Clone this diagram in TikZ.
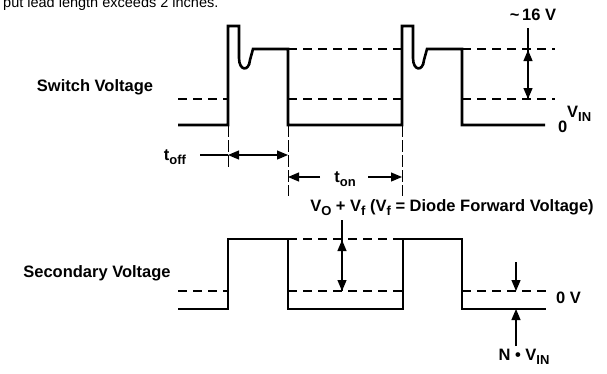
\documentclass[tikz,border=0pt]{standalone}
\usepackage{fontspec}
\setmainfont{Liberation Sans}
\usetikzlibrary{arrows.meta}
\newcommand\lsub[1]{\raisebox{-0.45ex}{\fontsize{13}{13}\selectfont #1}}
\begin{document}
\begin{tikzpicture}[x=1pt,y=-1pt,
 wave/.style={line width=2.6pt, line join=miter},
 guide/.style={line width=1.2pt, dash pattern=on 9pt off 6pt},
 tick/.style={line width=1pt, dash pattern=on 12pt off 3pt},
 dim/.style={line width=1.2pt},
 tip/.style={-{Triangle[width=9pt,length=11pt]}, line width=1.2pt},
 lbl/.style={font=\fontsize{16.5}{18}\selectfont\bfseries, inner sep=0pt},
]
\useasboundingbox (0,0) rectangle (607,373);
\clip (0,0) rectangle (607,373);
% clipped note at top
\node[anchor=base west, font=\fontsize{14.5}{16}\selectfont, inner sep=0pt] (note) at (3,7) {put lead length exceeds 2 inches.};

% ---------- switch voltage ----------
\coordinate (s0) at (178,125);
\coordinate (r1) at (228,125);
\coordinate (f1) at (288,125);
\coordinate (r2) at (402,125);
\coordinate (f2) at (462,125);
\coordinate (s9) at (545,125);
\draw[wave] (s0) -- (r1) -- (228,26) -- (239,26) -- (239,58) .. controls (239,71) and (249,72) .. (250,60) -- (253,49) -- (288,49) -- (f1) -- (r2) -- (402,26) -- (413,26) -- (413,58) .. controls (413,71) and (423,72) .. (424,60) -- (427,49) -- (462,49) -- (f2) -- (s9);
\draw[guide] (178,99) -- (228,99);
\draw[guide] (288,99) -- (402,99);
\draw[guide] (462,99) -- (555,99);
\draw[guide] (288,49) -- (402,49);
\draw[guide] (462,49) -- (555,49);

\node[lbl] (swl) at (95,87) {Switch Voltage};
\node[lbl] (v16) at (533,15) {\textasciitilde\,16 V};
\node[lbl, anchor=west] (zero1) at (558,127) {0};
\node[lbl, anchor=west] (vin1) at (567,114) {V\lsub{IN}};

\coordinate (a16t) at (528,28);
\coordinate (a16u) at (528,50);
\coordinate (a16d) at (528,99);
\draw[dim] (a16t) -- (a16d);
\draw[tip] (528,72) -- (a16u);
\draw[tip] (528,78) -- (a16d);

% ---------- timing ----------
\coordinate (d1) at (228,168);
\coordinate (d2) at (288,196);
\coordinate (d3) at (402,196);
\draw[tick] (r1) -- (d1);
\draw[tick] (f1) -- (d2);
\draw[tick] (r2) -- (d3);

\node[lbl] (toff) at (175,157) {t\lsub{off}};
\coordinate (o1) at (228,155);
\coordinate (o2) at (288,155);
\draw[dim] (200,155) -- (o1);
\draw[{Triangle[width=9pt,length=11pt]}-{Triangle[width=9pt,length=11pt]}, line width=1.2pt] (o1) -- (o2);

\node[lbl] (ton) at (345,179) {t\lsub{on}};
\coordinate (n1) at (288,177);
\coordinate (n2) at (402,177);
\draw[tip] (320,177) -- (n1);
\draw[tip] (368,177) -- (n2);

% ---------- secondary voltage ----------
\coordinate (q0) at (178,309);
\coordinate (q1) at (228,309);
\coordinate (q2) at (288,309);
\coordinate (q3) at (403,309);
\coordinate (q4) at (462,309);
\coordinate (q9) at (546,309);
\draw[wave] (q0) -- (q1) -- (228,239) -- (288,239) -- (q2) -- (q3) -- (403,239) -- (462,239) -- (q4) -- (q9);
\draw[guide] (178,291) -- (228,291);
\draw[guide] (288,291) -- (403,291);
\draw[guide] (462,291) -- (546,291);
\draw[guide] (288,239) -- (403,239);

\node[lbl] (secl) at (97,273) {Secondary Voltage};
\node[lbl] (vof) at (452,208) {V\lsub{O} + V\lsub{f} (V\lsub{f} = Diode Forward Voltage)};

\coordinate (vt) at (342,220);
\coordinate (vu) at (342,240);
\coordinate (vd) at (342,291);
\draw[dim] (vt) -- (vd);
\draw[tip] (342,263) -- (vu);
\draw[tip] (342,268) -- (vd);

\node[lbl, anchor=west] (zv) at (556,298) {0 V};
\node[lbl] (nvin) at (524,357) {N \textbullet\ V\lsub{IN}};
\coordinate (nvt) at (516,346);
\draw[tip] (516,262) -- (516,291);
\draw[tip] (nvt) -- (516,309);
\end{tikzpicture}
\end{document}
